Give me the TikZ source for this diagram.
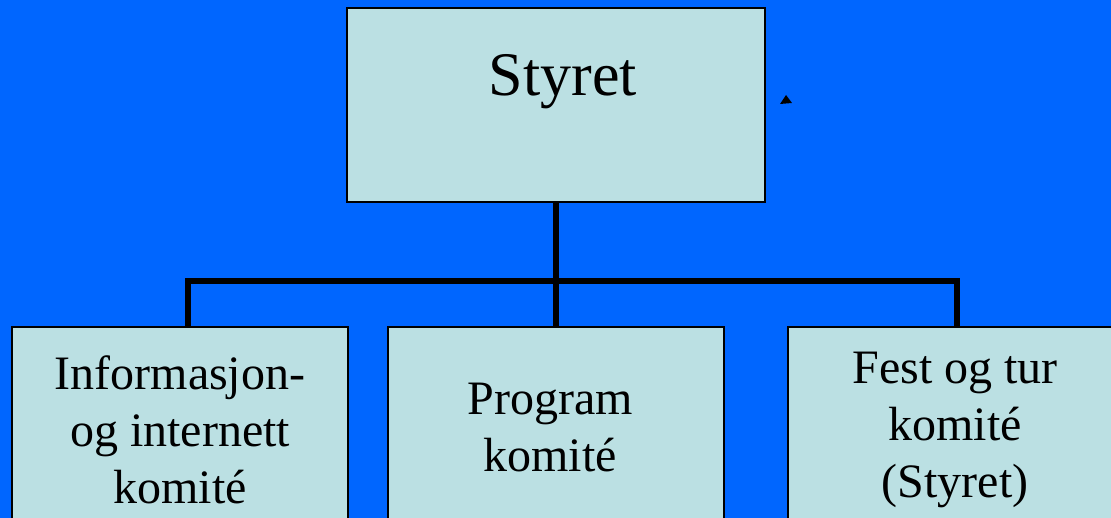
\documentclass[tikz,border=0pt]{standalone}
\usepackage{fontspec}
\setmainfont{Liberation Serif}
\usetikzlibrary{positioning}
\definecolor{slideblue}{HTML}{0066FF}
\definecolor{boxfill}{HTML}{BBE0E3}

\begin{document}
\begin{tikzpicture}[x=0.5pt, y=-0.5pt]
		\tikzstyle{box}=[rectangle, draw=black, fill=boxfill, line width=1.25pt, inner sep=0pt]
		\tikzstyle{label}=[align=center, font=\fontsize{24}{28.5}\selectfont]
		\tikzstyle{connect}=[line width=2.6pt, line join=miter]
		\useasboundingbox (0,0) rectangle (1111,518);
		\clip (0,0) rectangle (1111,518);
		\fill[slideblue] (0,0) rectangle (1111,518);
		
		\node[box, minimum width=209pt, minimum height=97pt] (styret) at (556,105) {};
		\node[font=\fontsize{31}{36}\selectfont] (styretText) at (563,82) {Styret};
		
		\node[box, minimum width=168pt, minimum height=120pt] (info) at (180,447) {};
		\node[box, minimum width=168pt, minimum height=120pt] (program) at (556,447) {};
		\node[box, minimum width=168pt, minimum height=120pt] (fest) at (956,447) {};
		
		\node[label] (infoText) at (180,430) {Informasjon-\\og internett\\komité};
		\node[label] (programText) at (550,428) {Program\\komité};
		\node[label] (festText) at (955,430) {Fest og tur\\komité\\(Styret)};
		
		\coordinate (barL) at (188,281);
		\coordinate (barR) at (957,281);
		
		\draw[connect] (styret.south) -- (program.north);
		\draw[connect] (barL |- info.north) -- (barL) -- (barR) -- (barR |- fest.north);
		
		% stray arrow tip
		\fill[black] (780,104) -- (786,95) -- (792,103) -- cycle;
	\end{tikzpicture}
\end{document}
